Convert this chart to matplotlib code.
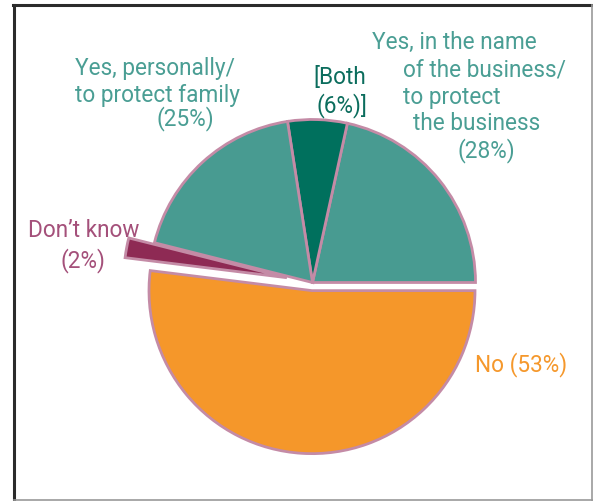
import matplotlib.pyplot as plt

W, H = 593, 502

# Survey answers (percent of respondents)
answers = ["Yes, in the name of the business", "Both", "Yes, personally", "Don't know", "No"]
reported = [28, 6, 25, 2, 53]

# "Both" is counted inside each yes answer, so the yes wedges show only the exclusive part
wedge_values = [reported[0] - reported[1], reported[1], reported[2] - reported[1],
                reported[3], reported[4]]

colors = ["#489b91", "#00705d", "#489b91", "#8e2a54", "#f5972a"]
text_colors = ["#4a9e94", "#0b6d5d", "#4a9e94", "#a4507a", "#f5982c"]

label_lines = [
    ["Yes, in the name", "of the business/", "to protect", "the business", f"({reported[0]}%)"],
    ["[Both", f"({reported[1]}%)]"],
    ["Yes, personally/", "to protect family", f"({reported[2]}%)"],
    ["Don\u2019t know", f"({reported[3]}%)"],
    [f"No ({reported[4]}%)"],
]
# left edge and baseline of every line, in pixels from the top-left corner
label_pos = [
    [(372, 49), (403, 77), (403, 104), (413, 130), (457, 157)],
    [(313, 84), (316, 112)],
    [(75, 75), (75, 102), (156, 125)],
    [(28, 237), (60, 267)],
    [(475, 371)],
]

plt.rcParams['font.family'] = ['Roboto', 'DejaVu Sans']

fig = plt.figure(figsize=(W / 100, H / 100), dpi=100)
ax = fig.add_axes([0, 0, 1, 1])

R = 163
# pie() takes explode as an absolute offset, so scale it by the radius
explode = [0, 0, 0, 0.16 * R, 0.05 * R]
ax.pie(wedge_values, colors=colors, explode=explode, startangle=0, counterclock=True,
       center=(312.5, H - 283.5), radius=R,
       wedgeprops=dict(edgecolor="#c48ba6", linewidth=2.0))

for lines, pos, c in zip(label_lines, label_pos, text_colors):
    for s, (x, y) in zip(lines, pos):
        ax.text(x, H - y, s, color=c, fontsize=16.3, fontweight="normal",
                ha="left", va="baseline")

# box around the chart
ax.plot([14, 14], [0, H - 6], color="#2b2b2b", lw=2.2, clip_on=False)
ax.plot([13, W], [H - 6, H - 6], color="#2b2b2b", lw=2.2, clip_on=False)
ax.plot([W - 1.5, W - 1.5], [0, H - 6], color="#9a9a9a", lw=1.2, clip_on=False)
ax.plot([14, W], [1, 1], color="#9a9a9a", lw=1.2, clip_on=False)

ax.set_xlim(0, W)
ax.set_ylim(0, H)
ax.set_aspect("equal")
ax.axis("off")

fig.savefig("out.png", dpi=100)
